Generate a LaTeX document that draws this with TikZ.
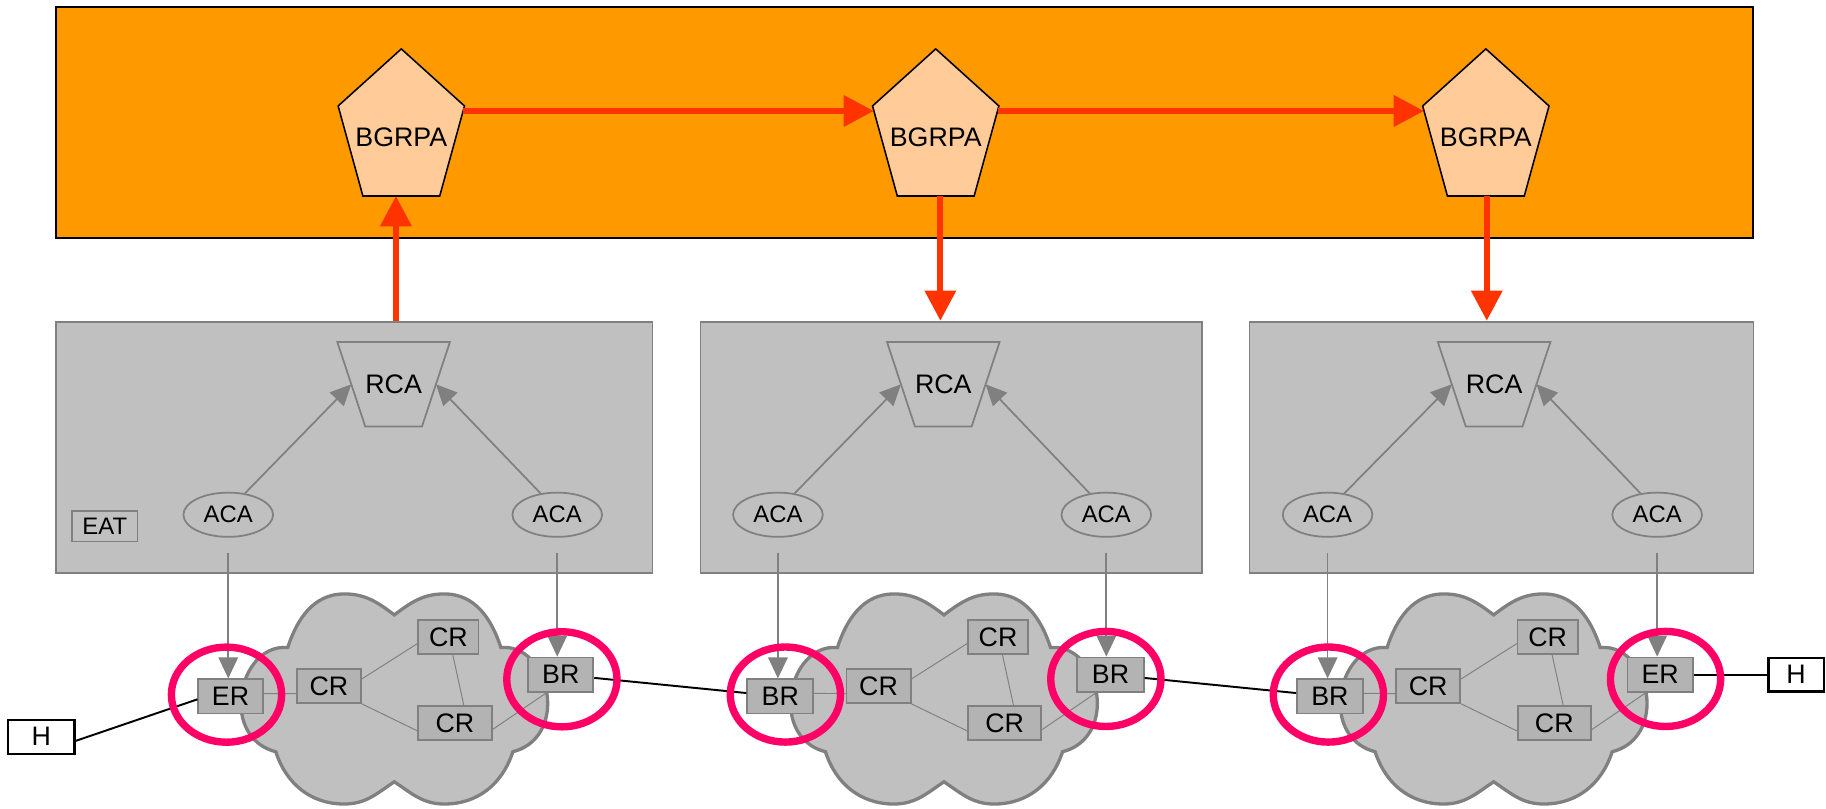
\documentclass[tikz,border=0pt]{standalone}
\usepackage{fontspec}
\setmainfont{Liberation Sans}
\usetikzlibrary{arrows.meta,shapes.geometric,calc}

\definecolor{domainorange}{HTML}{FF9900}
\definecolor{agentpeach}{HTML}{FFCC99}
\definecolor{signalred}{HTML}{FF3300}
\definecolor{ringred}{HTML}{FF0066}
\definecolor{panelgray}{HTML}{C0C0C0}
\definecolor{edgegray}{HTML}{808080}
\definecolor{routergray}{HTML}{B3B3B3}

\begin{document}
\begin{tikzpicture}[x=0.6pt,y=0.6pt,
  lbl/.style={font=\fontsize{13.8}{16}\selectfont},
  smalllbl/.style={font=\fontsize{12.3}{14}\selectfont},
  orangepanel/.style={draw=black, line width=1pt, fill=domainorange, inner sep=0,
    minimum width=874.6pt, minimum height=119pt},
  panel/.style={draw=edgegray, line width=0.9pt, fill=panelgray, inner sep=0, minimum height=129.6pt},
  pent/.style={draw=black, line width=0.8pt, fill=agentpeach},
  trap/.style={draw=edgegray, line width=0.9pt},
  rcalabel/.style={lbl, inner sep=0, minimum width=43.2pt, minimum height=43.2pt},
  aca/.style={smalllbl, ellipse, draw=edgegray, line width=0.9pt, fill=panelgray, inner sep=0,
    minimum width=46.2pt, minimum height=22.8pt},
  eat/.style={smalllbl, draw=edgegray, line width=0.9pt, inner sep=0, minimum width=33.6pt, minimum height=15.6pt},
  router/.style={lbl, draw=edgegray, line width=0.9pt, fill=routergray, inner sep=0, minimum height=17.6pt},
  host/.style={lbl, draw=black, line width=1.1pt, fill=white, inner sep=0, minimum height=17.4pt},
  cloudshape/.style={draw=edgegray, line width=1.7pt, fill=panelgray},
  link/.style={edgegray, line width=0.5pt},
  hostlink/.style={black, line width=1pt},
  bgpflow/.style={signalred, line width=3.1pt, -{Triangle[length=15.6pt,width=15.6pt]}},
  gflow/.style={edgegray, line width=0.9pt, -{Triangle[length=10.8pt,width=10pt]}},
  ring/.style={ellipse, draw=ringred, line width=3.8pt, inner sep=0, minimum width=56.8pt, minimum height=49pt},
]
\useasboundingbox (0,0) rectangle (1568,-694);

% inter-domain layer
\node[orangepanel] (bgpdomain) at (776.8,-104.9) {};

\foreach \i/\cx/\sx in {1/344.6/340, 2/803.5/807.5, 3/1275.9/1276.7}{
  \draw[pent] (\cx,-42) -- (\cx+54.25,-91) -- (\cx+33,-168.3) -- (\cx-33,-168.3) -- (\cx-54.25,-91) -- cycle;
  \node[lbl] (bgrpa\i) at (\cx,-118.2) {BGRPA};
  \coordinate (p\i-e) at (\cx+53.1,-95.3);
  \coordinate (p\i-w) at (\cx-53.1,-95.3);
  \coordinate (p\i-s) at (\sx,-168.3);
}

% per-domain agent panels
\node[panel, minimum width=307.4pt] (panel1) at (304.2,-384.2) {};
\node[panel, minimum width=258.3pt] (panel2) at (816.75,-384.2) {};
\node[panel, minimum width=259.6pt] (panel3) at (1289.3,-384.2) {};

\draw[bgpflow] (p1-e) -- (p2-w);
\draw[bgpflow] (p2-e) -- (p3-w);
\draw[bgpflow] (panel1.north -| p1-s) -- (p1-s);
\draw[bgpflow] (p2-s) -- (panel2.north -| p2-s);
\draw[bgpflow] (p3-s) -- (panel3.north -| p3-s);

\foreach \i/\cx in {1/338, 2/810, 3/1283}{
  \node[rcalabel] (rca\i) at (\cx,-330) {RCA};
  \draw[trap] ([xshift=-7.2pt]rca\i.north west) -- ([xshift=7.2pt]rca\i.north east)
    -- ([xshift=-7.2pt]rca\i.south east) -- ([xshift=7.2pt]rca\i.south west) -- cycle;
}

\foreach \i/\lx/\rx in {1/196/478.5, 2/668/950, 3/1140/1423}{
  \node[aca] (acal\i) at (\lx,-442) {ACA};
  \node[aca] (acar\i) at (\rx,-442) {ACA};
  \draw[gflow] (acal\i.52) -- (rca\i.west);
  \draw[gflow] (acar\i.128) -- (rca\i.east);
}

\node[eat] (eat) at (90,-452) {EAT};

% router clouds
\foreach \k/\dx/\ll/\lw/\rl/\rw in {1/0/ER/33.2pt/BR/33.5pt, 2/472/BR/34pt/BR/34.2pt, 3/944/BR/34pt/ER/33.7pt}{
  \begin{scope}[shift={(338.6+\dx,-600)}]
    \draw[cloudshape] (-91.5,44) to[out=72,in=180] (-43,90) to[out=0,in=143] (0,72)
      to[out=37,in=180] (43,90) to[out=0,in=108] (91.5,44)
      to[out=5,in=90] (131.7,-4) to[out=-90,in=14] (101.8,-45.5)
      to[out=-108,in=0] (43,-90.4) to[out=180,in=-34] (0,-71.3)
      to[out=-146,in=0] (-43,-90.4) to[out=180,in=-72] (-101.8,-45.5)
      to[out=166,in=-90] (-131.7,-4) to[out=90,in=175] (-91.5,44) -- cycle;
  \end{scope}
  \node[router, minimum width=\lw] (l\k) at (198+\dx,-598) {\ll};
  \node[router, minimum width=33.1pt] (ca\k) at (282.4+\dx,-589) {CR};
  \node[router, minimum width=31pt] (cb\k) at (385+\dx,-547) {CR};
  \node[router, minimum width=37.8pt] (cc\k) at (390.7+\dx,-620.75) {CR};
  \node[router, minimum width=\rw] (r\k) at (481.6+\dx,-579.25) {\rl};
  \draw[link] (l\k.5) -- (ca\k.193);
  \draw[link] (ca\k.12) -- (cb\k.192);
  \draw[link] (ca\k.south east) -- (cc\k.192);
  \draw[link] (cb\k.-76) -- (cc\k.64);
  \draw[link] (cc\k.-10) -- (r\k.232);
  \draw[gflow] ($(acal\k.south)+(0,-13)$) -- (acal\k.south |- l\k.north);
  \draw[gflow] ($(acar\k.south)+(0,-13)$) -- (acar\k.south |- r\k.north);
}

% hosts and inter-domain links
\node[host, minimum width=34.2pt] (h1) at (35.5,-632.6) {H};
\node[host, minimum width=28.5pt] (h3) at (1542.3,-579.25) {H};
\draw[hostlink] (h1.-7) -- (l1.185);
\draw[hostlink] (r1) -- (l2);
\draw[hostlink] (r2) -- (l3);
\draw[hostlink] (r3) -- (h3);

% highlighted border routers
\node[ring] (ring1) at (194.5,-596.5) {};
\node[ring] (ring2) at (482.5,-583.3) {};
\node[ring] (ring3) at (674.4,-596.4) {};
\node[ring] (ring4) at (949.6,-583) {};
\node[ring] (ring5) at (1140.7,-596.4) {};
\node[ring] (ring6) at (1430.2,-583) {};
\end{tikzpicture}
\end{document}
